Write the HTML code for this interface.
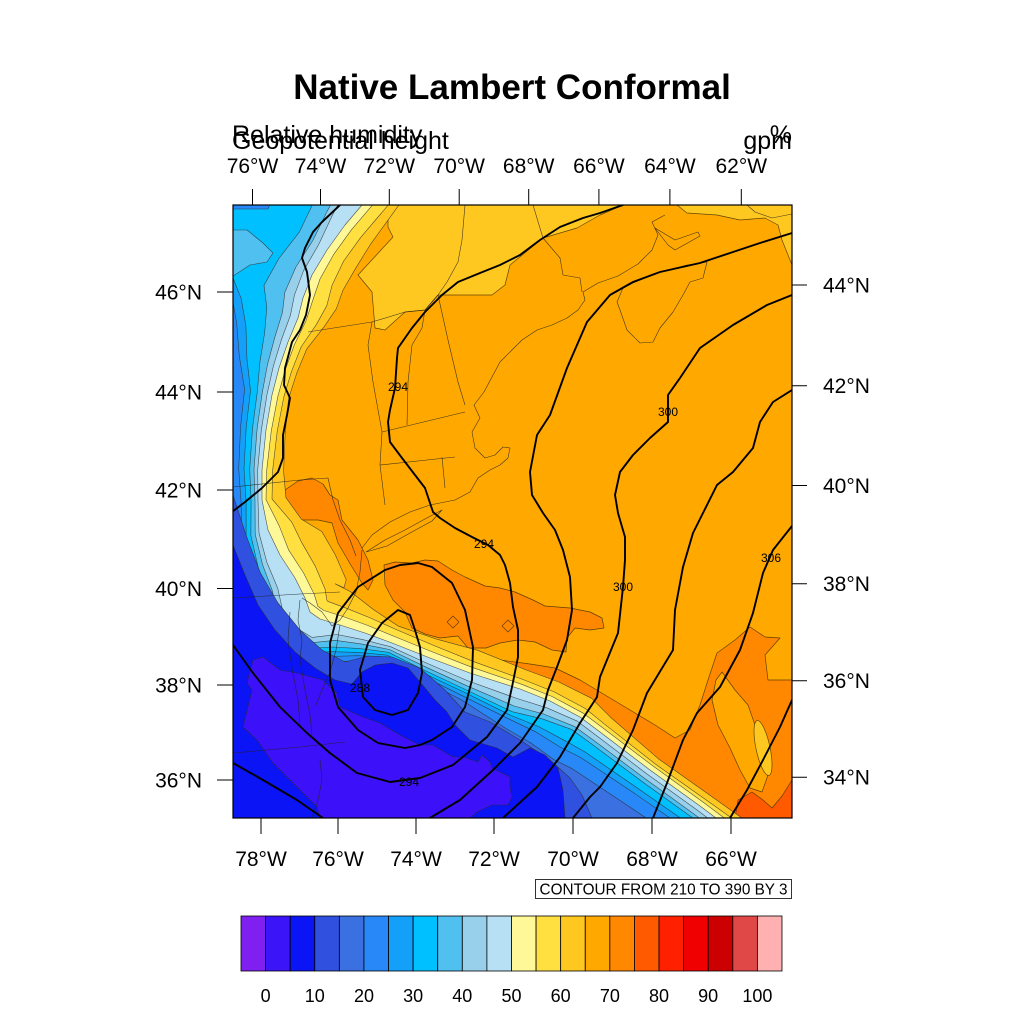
<!DOCTYPE html>
<html><head><meta charset="utf-8">
<style>html,body{margin:0;padding:0;background:#fff;width:1024px;height:1024px;overflow:hidden}svg{display:block}</style>
</head>
<body>
<svg id="s" xmlns="http://www.w3.org/2000/svg" width="1024" height="1024" viewBox="0 0 1024 1024" font-family="'Liberation Sans', Arial, Helvetica, sans-serif">
<rect width="1024" height="1024" fill="#fff"/>
<defs><clipPath id="cp"><rect x="233" y="205" width="559" height="613"/></clipPath></defs>

<text x="512" y="99" text-anchor="middle" font-size="35" font-weight="bold">Native Lambert Conformal</text>
<text x="232" y="143" font-size="25">Relative humidity</text>
<text x="232" y="149" font-size="25">Geopotential height</text>
<text x="792" y="143" font-size="25" text-anchor="end">%</text>
<text x="792" y="149" font-size="25" text-anchor="end">gpm</text>

<g clip-path="url(#cp)">
 <rect x="233" y="205" width="559" height="613" fill="#FFA800"/>
 <g stroke="#3a2a00" stroke-width="0.7" stroke-linejoin="round" stroke-opacity="0.8">
  <path fill="#FF8800" d="M470,650 L500,660 L530,664 L555,668 L580,680 L600,692 L630,710 L655,725 L675,738 L690,730 L700,705 L708,680 L717,653 L735,640 L750,627 L765,637 L780,638 L765,655 L768,680 L792,680 L800,680 L800,830 L470,830 Z"/>
  <path fill="#FFA800" d="M722,672 L735,690 L748,705 L755,725 L762,750 L768,775 L762,792 L750,788 L740,770 L730,748 L718,725 L712,700 L716,680 Z"/>
  <ellipse cx="763" cy="748" rx="7" ry="28" transform="rotate(-12 763 748)" fill="#FFC820"/>
  <path fill="#FF5A00" d="M738,800 L752,792 L763,800 L772,808 L782,796 L792,780 L800,780 L800,830 L733,830 Z"/>
  <path fill="#FF8800" d="M384,565 L395,562 L412,563 L425,560 L438,561 L452,570 L465,577 L485,586 L500,588 L515,592 L533,600 L545,606 L570,608 L590,612 L602,618 L604,628 L590,630 L575,628 L567,638 L566,652 L552,650 L535,642 L518,640 L500,643 L486,648 L468,648 L458,636 L440,638 L425,634 L412,628 L405,612 L393,600 L385,585 Z"/>
  <path fill="#FF8800" d="M453,616 L459,622 L453,628 L447,622 Z"/>
  <path fill="#FF8800" d="M508,620 L514,626 L508,632 L502,626 Z"/>
  <path fill="#FF8800" d="M285,490 L298,481 L312,478 L323,484 L330,495 L338,500 L342,520 L358,540 L368,560 L373,580 L368,590 L362,583 L352,567 L338,543 L332,523 L318,520 L302,520 L290,516 L286,505 Z"/>
  <path fill="#FFC820" d="M388,200 L388,227 L393,237 L358,275 L372,292 L375,328 L385,330 L405,312 L425,310 L438,295 L462,295 L492,295 L505,285 L510,265 L543,238 L577,228 L600,215 L623,205 L625,200 Z"/>
  <path fill="#FFC820" d="M677,200 L677,205 L687,213 L717,215 L740,220 L765,218 L778,225 L782,240 L788,255 L792,265 L800,265 L800,200 Z"/>
 </g>

 <path fill="#2888F8" d="M362,205 L327,250 L303,298 L288,342 L272,395 L262,470 L262,500 L280,555 L305,598 L320,619 L365,633 L430,658 L520,689 L600,732 L700,806 L716,818 L200,830 L200,200 Z"/>

 <g id="bands" stroke="#2a2a2a" stroke-width="0.6" stroke-linejoin="round" stroke-opacity="0.8"></g>

 <g stroke="#2a2a2a" stroke-width="0.6" stroke-linejoin="round" stroke-opacity="0.8">
  <path fill="#3050E0" d="M200,490 L233,495 L246,535 L260,572 L278,603 L300,630 L322,650 L345,662 L368,656 L392,657 L420,668 L445,690 L465,712 L490,722 L520,740 L550,760 L570,778 L582,795 L592,818 L592,830 L200,830 Z"/>
  <path fill="#0A14F5" d="M200,540 L233,545 L245,575 L258,605 L275,630 L295,652 L315,668 L335,680 L352,684 L362,672 L375,665 L392,663 L408,668 L420,682 L435,700 L447,712 L455,725 L470,740 L497,748 L513,757 L530,748 L545,755 L558,768 L563,790 L565,818 L565,830 L200,830 Z"/>
  <path fill="#3C10F8" d="M253,660 L263,657 L280,670 L297,673 L323,680 L330,687 L337,693 L340,707 L363,717 L380,723 L400,735 L420,745 L433,745 L453,757 L463,757 L478,762 L482,755 L490,762 L492,768 L510,777 L510,787 L512,797 L508,805 L492,805 L477,812 L470,818 L470,830 L320,830 L320,818 L317,807 L297,787 L273,763 L257,740 L243,727 L252,690 L247,683 Z"/>
  <path fill="#50C0F0" d="M230,230 L247,230 L263,243 L273,253 L267,262 L250,265 L230,278 Z"/>
  <path fill="#2888F8" d="M230,200 L272,200 L268,209 L230,209 Z"/>
 </g>

 <g fill="none" stroke="#222" stroke-width="0.6" stroke-linejoin="round" stroke-opacity="0.85">
  <path d="M308,332 L372,322 L405,312 L425,310 L438,295 L447,282 L458,262 L462,240 L465,205"/>
  <path d="M533,205 L543,238 L560,258 L563,275 L580,278 L582,292"/>
  <path d="M425,310 L422,328 L412,345 L408,382 L407,425"/>
  <path d="M438,295 L448,340 L458,382 L465,405"/>
  <path d="M372,322 L368,345 L373,382 L382,432"/>
  <path d="M382,432 L465,412"/>
  <path d="M382,432 L380,465 L385,505"/>
  <path d="M380,465 L455,457"/>
  <path d="M442,457 L445,488"/>
  <path d="M233,487 L300,480 L328,478 L333,500 L340,520 L350,540 L356,556"/>
  <path d="M233,598 L300,594 L340,592"/>
  <path d="M233,753 L300,747 L345,742"/>
  <path d="M362,548 L372,535 L390,522 L410,512 L430,505 L455,500 L470,492 L478,478 L490,470 L500,465 L508,458 L510,448 L503,447 L495,455 L485,458 L475,448 L472,432 L480,418 L474,405 L484,392 L492,377 L500,362 L512,350 L522,340 L537,330 L552,325 L567,318 L578,310 L585,300 L583,292 L598,283 L618,276 L638,264 L652,250 L658,235 L652,222 L665,215"/>
  <path d="M366,552 L385,540 L405,530 L425,519 L442,510 L432,521 L410,533 L387,546 Z"/>
  <path d="M617,302 L623,288 L633,283 L660,272 L687,265 L707,262 L703,278 L690,282 L683,295 L673,312 L660,328 L653,342 L640,343 L627,330 L620,310 Z"/>
  <path d="M655,228 L668,245 L675,250 L700,236 L698,232 L675,240 Z"/>
  <path d="M747,205 L755,212 L772,218 L792,214"/>
  <path d="M362,550 L360,572 L356,592 L348,608 L340,620 L332,626 L322,612 L310,603 L302,598"/>
  <path d="M340,625 L336,650 L330,672 L322,690 L316,705"/>
  <path d="M300,600 L298,620 L302,640 L300,660 L305,690 L310,715 L312,735"/>
  <path d="M290,612 L288,640 L292,668 L298,700 L300,725"/>
  <path d="M320,760 L322,780 L318,800 L312,818"/>
 </g>

 <g fill="none" stroke="#000" stroke-width="1.9" stroke-linejoin="round" stroke-linecap="round">
  <polyline points="340,205 322,222 313,232 305,248 302,258 307,272 310,295 306,315 300,330 292,342 285,368 284,385 290,398 287,415 283,435 283,458 278,472 262,488 245,502 232,512"/>
  <polyline points="623,205 600,213 583,218 560,227 540,240 520,255 500,265 480,273 458,282 442,295 425,312 412,328 398,348 397,358 395,388 390,410 388,422 390,442 402,458 415,475 425,488 433,512 440,518 455,528 472,537 488,545 500,555 505,565 510,583 513,607 518,630 518,657 512,687 507,710 487,737 453,765 420,778 390,782 357,773 330,753 307,733 280,707 253,673 233,645"/>
  <polygon points="418,563 400,565 385,570 358,587 338,613 330,643 330,680 338,707 358,730 378,743 405,748 420,745 432,740 452,727 465,707 472,680 473,647 465,610 452,583 432,567"/>
  <polygon points="398,610 382,623 368,643 360,670 363,697 375,710 392,715 408,710 418,693 422,673 420,647 415,630 410,615"/>
  <polyline points="233,763 263,780 297,800 323,818"/>
  <polyline points="792,233 760,243 733,252 700,263 660,272 633,282 610,295 587,322 567,368 550,415 537,435 530,472 532,495 543,513 555,530 563,550 570,577 572,610 567,640 557,667 548,690 543,710 520,743 493,770 460,800 430,818"/>
  <polyline points="792,295 767,305 733,325 700,348 680,378 668,395 668,422 650,438 633,455 620,472 615,495 618,513 625,537 625,560 623,587 618,633 600,677 597,697 580,723 560,757 537,787 503,818"/>
  <polyline points="792,390 773,402 760,422 753,448 733,472 717,485 703,513 693,533 683,567 675,610 673,650 647,693 633,730 617,763 600,787 590,797 573,818"/>
  <polyline points="792,526 773,550 763,573 753,613 740,650 720,687 697,713 683,740 667,783 653,818"/>
  <polyline points="792,700 780,727 763,760 747,790 730,818"/>
 </g>
 <g font-size="12" text-anchor="middle" fill="#000">
  <text x="398" y="391">294</text>
  <text x="484" y="548">294</text>
  <text x="360" y="692">288</text>
  <text x="409" y="786">294</text>
  <text x="668" y="416">300</text>
  <text x="623" y="591">300</text>
  <text x="771" y="562">306</text>
 </g>
</g>
<rect x="233" y="205" width="559" height="613" fill="none" stroke="#000" stroke-width="1.2"/>

<g stroke="#000" stroke-width="1">
 <path d="M252.5,205V189 M320.5,205V189 M389.3,205V189 M459.2,205V189 M528.7,205V189 M598.9,205V189 M669.9,205V189 M741.3,205V189"/>
 <path d="M261,818V834 M338,818V834 M416,818V834 M494,818V834 M573,818V834 M652,818V834 M731,818V834"/>
 <path d="M233,292H217 M233,392H217 M233,490H217 M233,588.5H217 M233,685H217 M233,780H217"/>
 <path d="M792,285H807 M792,385.7H807 M792,485.5H807 M792,583.7H807 M792,680.8H807 M792,777.2H807"/>
</g>
<g font-size="21" fill="#000">
 <g text-anchor="middle">
  <text x="252.5" y="173">76°W</text><text x="320.5" y="173">74°W</text><text x="389.3" y="173">72°W</text><text x="459.2" y="173">70°W</text>
  <text x="528.7" y="173">68°W</text><text x="598.9" y="173">66°W</text><text x="669.9" y="173">64°W</text><text x="741.3" y="173">62°W</text>
  <text x="261" y="866">78°W</text><text x="338" y="866">76°W</text><text x="416" y="866">74°W</text><text x="494" y="866">72°W</text>
  <text x="573" y="866">70°W</text><text x="652" y="866">68°W</text><text x="731" y="866">66°W</text>
 </g>
 <g text-anchor="end">
  <text x="202" y="299.5">46°N</text><text x="202" y="399.5">44°N</text><text x="202" y="497.5">42°N</text>
  <text x="202" y="596">40°N</text><text x="202" y="692.5">38°N</text><text x="202" y="787.5">36°N</text>
 </g>
 <g>
  <text x="823" y="292.5">44°N</text><text x="823" y="393">42°N</text><text x="823" y="493">40°N</text>
  <text x="823" y="591">38°N</text><text x="823" y="688">36°N</text><text x="823" y="784.5">34°N</text>
 </g>
</g>

<rect x="535.5" y="879.5" width="256" height="19" fill="#fff" stroke="#000" stroke-width="0.8"/>
<text x="663.5" y="894.5" font-size="15.3" text-anchor="middle">CONTOUR FROM 210 TO 390 BY 3</text>

<g stroke="#000" stroke-width="0.8">
 <rect x="241" y="916" width="24.59" height="55" fill="#8020F0"/>
 <rect x="265.59" y="916" width="24.59" height="55" fill="#3C14F8"/>
 <rect x="290.18" y="916" width="24.59" height="55" fill="#0A14F5"/>
 <rect x="314.77" y="916" width="24.59" height="55" fill="#3050E0"/>
 <rect x="339.36" y="916" width="24.59" height="55" fill="#3A70E0"/>
 <rect x="363.95" y="916" width="24.59" height="55" fill="#2888F8"/>
 <rect x="388.54" y="916" width="24.59" height="55" fill="#14A0F8"/>
 <rect x="413.13" y="916" width="24.59" height="55" fill="#00C0FF"/>
 <rect x="437.72" y="916" width="24.59" height="55" fill="#50C0F0"/>
 <rect x="462.31" y="916" width="24.59" height="55" fill="#98D0EC"/>
 <rect x="486.9" y="916" width="24.59" height="55" fill="#B8E0F4"/>
 <rect x="511.49" y="916" width="24.59" height="55" fill="#FFF898"/>
 <rect x="536.08" y="916" width="24.59" height="55" fill="#FFE040"/>
 <rect x="560.67" y="916" width="24.59" height="55" fill="#FFC820"/>
 <rect x="585.26" y="916" width="24.59" height="55" fill="#FFA800"/>
 <rect x="609.85" y="916" width="24.59" height="55" fill="#FF8800"/>
 <rect x="634.44" y="916" width="24.59" height="55" fill="#FF5A00"/>
 <rect x="659.03" y="916" width="24.59" height="55" fill="#FF2000"/>
 <rect x="683.62" y="916" width="24.59" height="55" fill="#F00000"/>
 <rect x="708.21" y="916" width="24.59" height="55" fill="#CC0000"/>
 <rect x="732.8" y="916" width="24.59" height="55" fill="#E04848"/>
 <rect x="757.39" y="916" width="24.59" height="55" fill="#FFB0B0"/>
</g>
<g font-size="18" text-anchor="middle" fill="#000">
 <text x="265.6" y="1002">0</text><text x="314.8" y="1002">10</text><text x="364" y="1002">20</text>
 <text x="413.1" y="1002">30</text><text x="462.3" y="1002">40</text><text x="511.5" y="1002">50</text>
 <text x="560.7" y="1002">60</text><text x="609.9" y="1002">70</text><text x="659" y="1002">80</text>
 <text x="708.2" y="1002">90</text><text x="757.4" y="1002">100</text>
</g>
</svg>
<script>
(function(){
var C=[[362,205],[345,225],[327,250],[312,275],[303,298],[298,318],[288,342],[279,368],[272,395],[266,430],[262,470],[262,500],[268,530],[280,555],[295,578],[305,598],[310,612],[320,619],[340,625],[365,633],[392,643],[430,658],[470,673],[520,689],[550,701],[580,717],[600,732],[650,770],[700,806],[716,818]];
var n=C.length;
var B=[
['#FFC820',{0:30,2:34,4:35,6:20,8:17,11:24,12:35,13:48,15:45,18:35,19:25,20:18,21:20,22:24,23:20,25:22,27:14,29:15}],
['#FFE040',{0:20,2:20,4:25,6:14,8:12,11:10,12:25,13:25,15:22,18:18,20:14,22:12,23:10,25:10,27:8,29:9}],
['#FFF898',{0:8,2:8,4:10,6:7,8:6,11:4,12:12,13:10,15:10,18:9,20:7,22:6,23:5,25:5,27:5,29:5}],
['#B8E0F4',{0:0,29:0}],
['#98D0EC',{0:-22,2:-10,4:-9,6:-7,8:-5,11:-4,13:-15,15:-25,17:-20,18:-10,20:-4,22:-8,23:-10,25:-5,27:-5,29:-5}],
['#50C0F0',{0:-28,2:-17,4:-19,6:-14,8:-10,11:-7,13:-20,15:-32,17:-26,18:-16,20:-7,22:-13,23:-18,25:-11,27:-10,29:-10}],
['#00C0FF',{0:-45,2:-33,4:-41,6:-25,8:-15,11:-11,13:-25,15:-38,17:-32,18:-23,20:-10,22:-17,23:-24,25:-15,27:-14,29:-14}],
['#14A0F8',{0:-170,2:-150,3:-120,4:-75,6:-45,8:-22,11:-16,13:-30,15:-43,17:-37,18:-28,20:-13,22:-20,23:-28,25:-28,27:-22,29:-20}],
['#2888F8',{0:-180,2:-160,3:-130,4:-85,6:-55,8:-28,11:-21,13:-34,15:-47,17:-42,18:-33,20:-15,22:-24,23:-32,25:-36,27:-28,29:-26}],
['#3A70E0',{0:-190,2:-170,4:-120,6:-75,8:-42,11:-28,13:-40,15:-52,17:-48,18:-40,20:-18,22:-28,23:-42,25:-50,27:-42,29:-38}]
];
var g=document.getElementById('bands');
var NS='http://www.w3.org/2000/svg';
function offs(a){
 var ks=Object.keys(a).map(Number).sort(function(x,y){return x-y;});
 var d=[];
 for(var i=0;i<n;i++){
  var lo=ks[0],hi=ks[ks.length-1],j;
  for(j=0;j<ks.length;j++){if(ks[j]<=i)lo=ks[j];}
  for(j=ks.length-1;j>=0;j--){if(ks[j]>=i)hi=ks[j];}
  d.push(lo===hi?a[lo]:a[lo]+(a[hi]-a[lo])*(i-lo)/(hi-lo));
 }
 return d;
}
function cl(v){return Math.max(2,Math.min(1022,v));}
function f(v){return cl(v).toFixed(1);}
function ext(a0,a1){
 var dx=a0[0]-a1[0],dy=a0[1]-a1[1],l=Math.sqrt(dx*dx+dy*dy)||1;dx/=l;dy/=l;
 var t=250,x,y;
 while(t>1){x=a0[0]+dx*t;y=a0[1]+dy*t;if(x>=2&&x<=1022&&y>=2&&y<=1022)break;t*=0.85;}
 return [a0[0]+dx*t,a0[1]+dy*t];
}
for(var b=0;b<B.length;b++){
 var d=offs(B[b][1]);var P=[];var i;
 for(i=0;i<n;i++){
  var p=C[Math.max(i-1,0)],q=C[Math.min(i+1,n-1)];
  var tx=q[0]-p[0],ty=q[1]-p[1],L=Math.sqrt(tx*tx+ty*ty);tx/=L;ty/=L;
  P.push([C[i][0]+ty*d[i],C[i][1]-tx*d[i]]);
 }
 var s=ext(P[0],P[1]);
 var e=ext(P[n-1],P[n-2]);
 var str='M'+f(s[0])+','+f(s[1]);
 for(i=0;i<n;i++)str+='L'+f(P[i][0])+','+f(P[i][1]);
 str+='L'+f(e[0])+','+f(e[1])+'L'+f(e[0])+',1022L2,1022L2,2L'+f(s[0])+',2Z';
 var el=document.createElementNS(NS,'path');
 el.setAttribute('d',str);el.setAttribute('fill',B[b][0]);
 g.appendChild(el);
}
})();
</script>
</body></html>
